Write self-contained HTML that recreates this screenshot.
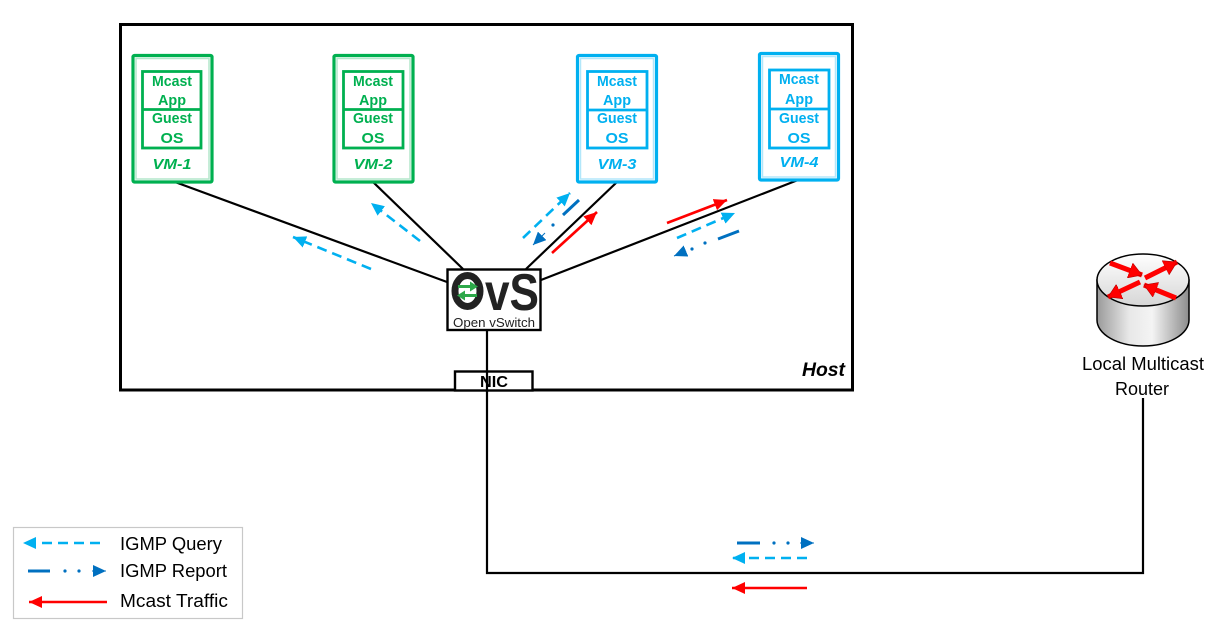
<!DOCTYPE html>
<html><head><meta charset="utf-8"><style>
html,body{margin:0;padding:0;background:#fff;}
svg{display:block;}
text{font-family:"Liberation Sans",sans-serif;}
</style></head><body>
<svg width="1221" height="636" viewBox="0 0 1221 636" xmlns="http://www.w3.org/2000/svg">
<defs>
<marker id="hq" markerUnits="userSpaceOnUse" markerWidth="14" markerHeight="12" refX="13" refY="6" orient="auto"><path d="M0,0 L13,6 L0,12 z" fill="#00B0F0"/></marker>
<marker id="hr" markerUnits="userSpaceOnUse" markerWidth="14" markerHeight="12" refX="13" refY="6" orient="auto"><path d="M0,0 L13,6 L0,12 z" fill="#0070C0"/></marker>
<marker id="ht" markerUnits="userSpaceOnUse" markerWidth="14" markerHeight="12" refX="13" refY="6" orient="auto"><path d="M0,0 L13,6 L0,12 z" fill="#FF0000"/></marker>
<marker id="hrt" markerUnits="userSpaceOnUse" markerWidth="16" markerHeight="16" refX="13" refY="8" orient="auto"><path d="M0,0 L13,8 L0,16 z" fill="#FF0000" stroke="#b00000" stroke-width="0.6"/></marker>
<linearGradient id="body" x1="0" x2="1" y1="0" y2="0">
<stop offset="0" stop-color="#9a9a9a"/><stop offset="0.35" stop-color="#e8e8e8"/><stop offset="0.6" stop-color="#f4f4f4"/><stop offset="1" stop-color="#8c8c8c"/></linearGradient>
<linearGradient id="top" x1="0" x2="0" y1="0" y2="1">
<stop offset="0" stop-color="#ffffff"/><stop offset="1" stop-color="#d6d6d6"/></linearGradient>
</defs>

<!-- Host box -->
<rect x="120.5" y="24.5" width="732" height="365.5" fill="none" stroke="#000" stroke-width="3"/>
<text x="845" y="376" font-size="19" font-weight="bold" font-style="italic" text-anchor="end" textLength="43" lengthAdjust="spacingAndGlyphs">Host</text>

<!-- connection lines -->
<g stroke="#000" stroke-width="2.2" fill="none">
<line x1="175" y1="182" x2="447" y2="282"/>
<line x1="373" y1="182" x2="463" y2="269"/>
<line x1="617" y1="182" x2="526" y2="269"/>
<line x1="798" y1="180" x2="541" y2="280"/>
<polyline points="487,330 487,573 1143,573 1143,398"/>
</g>

<!-- VM boxes -->
<g fill="none" stroke-width="3.2">
<rect x="133" y="55.5" width="79" height="126.5" stroke="#00B050" rx="1.5"/>
<rect x="334" y="55.5" width="79" height="126.5" stroke="#00B050" rx="1.5"/>
<rect x="577.5" y="55.5" width="79" height="126.5" stroke="#00B0F0" rx="1.5"/>
<rect x="759.5" y="53.5" width="79" height="126.5" stroke="#00B0F0" rx="1.5"/>
</g>
<g fill="none" stroke-width="1.5" opacity="0.3">
<rect x="136" y="58.5" width="73" height="120.5" stroke="#00B050"/>
<rect x="337" y="58.5" width="73" height="120.5" stroke="#00B050"/>
<rect x="580.5" y="58.5" width="73" height="120.5" stroke="#00B0F0"/>
<rect x="762.5" y="56.5" width="73" height="120.5" stroke="#00B0F0"/>
</g>
<g fill="none" stroke-width="2.8">
<rect x="142.5" y="71.5" width="58.5" height="76.5" stroke="#00B050"/>
<line x1="142.5" y1="109.5" x2="201" y2="109.5" stroke="#00B050"/>
<rect x="343.5" y="71.5" width="59.5" height="76.5" stroke="#00B050"/>
<line x1="343.5" y1="109.5" x2="403" y2="109.5" stroke="#00B050"/>
<rect x="587.5" y="71.5" width="59.5" height="76.5" stroke="#00B0F0"/>
<line x1="587.5" y1="110" x2="647" y2="110" stroke="#00B0F0"/>
<rect x="769.5" y="70" width="59.5" height="78" stroke="#00B0F0"/>
<line x1="769.5" y1="109" x2="829" y2="109" stroke="#00B0F0"/>
</g>
<g font-size="15" font-weight="bold" text-anchor="middle" fill="#00B050">
<text x="172" y="86" textLength="40" lengthAdjust="spacingAndGlyphs">Mcast</text>
<text x="172" y="105" textLength="28" lengthAdjust="spacingAndGlyphs">App</text>
<text x="172" y="123" textLength="40" lengthAdjust="spacingAndGlyphs">Guest</text>
<text x="172" y="143" textLength="23" lengthAdjust="spacingAndGlyphs">OS</text>
<text x="172" y="169" font-style="italic" textLength="39" lengthAdjust="spacingAndGlyphs">VM-1</text>
<text x="373" y="86" textLength="40" lengthAdjust="spacingAndGlyphs">Mcast</text>
<text x="373" y="105" textLength="28" lengthAdjust="spacingAndGlyphs">App</text>
<text x="373" y="123" textLength="40" lengthAdjust="spacingAndGlyphs">Guest</text>
<text x="373" y="143" textLength="23" lengthAdjust="spacingAndGlyphs">OS</text>
<text x="373" y="169" font-style="italic" textLength="39" lengthAdjust="spacingAndGlyphs">VM-2</text>
</g>
<g font-size="15" font-weight="bold" text-anchor="middle" fill="#00B0F0">
<text x="617" y="86" textLength="40" lengthAdjust="spacingAndGlyphs">Mcast</text>
<text x="617" y="105" textLength="28" lengthAdjust="spacingAndGlyphs">App</text>
<text x="617" y="123" textLength="40" lengthAdjust="spacingAndGlyphs">Guest</text>
<text x="617" y="143" textLength="23" lengthAdjust="spacingAndGlyphs">OS</text>
<text x="617" y="169" font-style="italic" textLength="39" lengthAdjust="spacingAndGlyphs">VM-3</text>
<text x="799" y="84" textLength="40" lengthAdjust="spacingAndGlyphs">Mcast</text>
<text x="799" y="104" textLength="28" lengthAdjust="spacingAndGlyphs">App</text>
<text x="799" y="123" textLength="40" lengthAdjust="spacingAndGlyphs">Guest</text>
<text x="799" y="143" textLength="23" lengthAdjust="spacingAndGlyphs">OS</text>
<text x="799" y="167" font-style="italic" textLength="39" lengthAdjust="spacingAndGlyphs">VM-4</text>
</g>

<!-- OvS box -->
<rect x="447.5" y="269.5" width="93" height="60.5" fill="#fff" stroke="#000" stroke-width="2.4"/>
<ellipse cx="467.5" cy="291" rx="12.5" ry="15.5" fill="none" stroke="#222" stroke-width="7"/>
<g stroke="#2DA84A" stroke-width="3" fill="#2DA84A">
<line x1="458" y1="286.5" x2="472" y2="286.5"/><path d="M470,281.5 L478,286.5 L470,291.5 z" stroke="none"/>
<line x1="477" y1="295.5" x2="463" y2="295.5"/><path d="M465,290.5 L457,295.5 L465,300.5 z" stroke="none"/>
</g>
<text x="485" y="310" font-size="52" font-weight="bold" fill="#222" textLength="54" lengthAdjust="spacingAndGlyphs">vS</text>
<text x="494" y="327" font-size="13" text-anchor="middle" fill="#222" textLength="82" lengthAdjust="spacingAndGlyphs">Open vSwitch</text>

<!-- NIC -->
<rect x="455" y="371.5" width="77.5" height="19" fill="#fff" stroke="#000" stroke-width="2.4"/>
<text x="494" y="387" font-size="16" font-weight="bold" text-anchor="middle" textLength="28" lengthAdjust="spacingAndGlyphs">NIC</text>
<line x1="487" y1="371" x2="487" y2="392" stroke="#000" stroke-width="2.2"/>

<!-- arrows near VMs -->
<g fill="none" stroke-width="2.6">
<line x1="371" y1="269" x2="293" y2="237" stroke="#00B0F0" stroke-dasharray="10 6" marker-end="url(#hq)"/>
<line x1="420" y1="241" x2="371" y2="203" stroke="#00B0F0" stroke-dasharray="10 6" marker-end="url(#hq)"/>
<line x1="523" y1="238" x2="570" y2="193" stroke="#00B0F0" stroke-dasharray="10 6" marker-end="url(#hq)"/>
<line x1="677" y1="238" x2="735" y2="213" stroke="#00B0F0" stroke-dasharray="10 6" marker-end="url(#hq)"/>
<line x1="552" y1="253" x2="597" y2="212" stroke="#FF0000" marker-end="url(#ht)"/>
<line x1="667" y1="223" x2="727" y2="200" stroke="#FF0000" marker-end="url(#ht)"/>
<line x1="579" y1="200" x2="563" y2="215" stroke="#0070C0" stroke-width="3"/>
<line x1="545" y1="233" x2="533" y2="245" stroke="#0070C0" stroke-width="1" marker-end="url(#hr)"/>
<line x1="739" y1="231" x2="718" y2="239" stroke="#0070C0" stroke-width="3"/>
<line x1="686" y1="251" x2="674" y2="256" stroke="#0070C0" stroke-width="1" marker-end="url(#hr)"/>
<line x1="737" y1="543" x2="760" y2="543" stroke="#0070C0" stroke-width="3"/>
<line x1="800" y1="543" x2="814" y2="543" stroke="#0070C0" stroke-width="1" marker-end="url(#hr)"/>
<line x1="807" y1="558" x2="732" y2="558" stroke="#00B0F0" stroke-dasharray="10 6" marker-end="url(#hq)"/>
<line x1="807" y1="588" x2="732" y2="588" stroke="#FF0000" marker-end="url(#ht)"/>
<line x1="100" y1="543" x2="23" y2="543" stroke="#00B0F0" stroke-dasharray="10 6" marker-end="url(#hq)"/>
<line x1="28" y1="571" x2="50" y2="571" stroke="#0070C0" stroke-width="3"/>
<line x1="92" y1="571" x2="106" y2="571" stroke="#0070C0" stroke-width="1" marker-end="url(#hr)"/>
<line x1="107" y1="602" x2="29" y2="602" stroke="#FF0000" marker-end="url(#ht)"/>
</g>
<g fill="#0070C0">
<circle cx="553" cy="225" r="1.6"/>
<circle cx="705" cy="243" r="1.6"/><circle cx="692" cy="249" r="1.6"/>
<circle cx="774" cy="543" r="1.6"/><circle cx="788" cy="543" r="1.6"/>
<circle cx="65" cy="571" r="1.6"/><circle cx="79" cy="571" r="1.6"/>
</g>

<!-- legend box -->
<rect x="13.5" y="527.5" width="229" height="91" fill="none" stroke="#c8c8c8" stroke-width="1.2"/>
<g font-size="18" fill="#000">
<text x="120" y="550" textLength="102" lengthAdjust="spacingAndGlyphs">IGMP Query</text>
<text x="120" y="577" textLength="107" lengthAdjust="spacingAndGlyphs">IGMP Report</text>
<text x="120" y="607" textLength="108" lengthAdjust="spacingAndGlyphs">Mcast Traffic</text>
</g>

<!-- Router -->
<path d="M1097,280 L1097,320 A46,26 0 0 0 1189,320 L1189,280 z" fill="url(#body)" stroke="#000" stroke-width="1.5"/>
<ellipse cx="1143" cy="280" rx="46" ry="26" fill="url(#top)" stroke="#000" stroke-width="1.5"/>
<g stroke="#FF0000" stroke-width="5" fill="none">
<line x1="1110" y1="263" x2="1142" y2="275" marker-end="url(#hrt)"/>
<line x1="1145" y1="278" x2="1177" y2="262" marker-end="url(#hrt)"/>
<line x1="1176" y1="298" x2="1144" y2="285" marker-end="url(#hrt)"/>
<line x1="1140" y1="282" x2="1108" y2="297" marker-end="url(#hrt)"/>
</g>
<g font-size="18" fill="#000" text-anchor="middle">
<text x="1143" y="370" textLength="122" lengthAdjust="spacingAndGlyphs">Local Multicast</text>
<text x="1142" y="395" textLength="54" lengthAdjust="spacingAndGlyphs">Router</text>
</g>
</svg>
</body></html>
